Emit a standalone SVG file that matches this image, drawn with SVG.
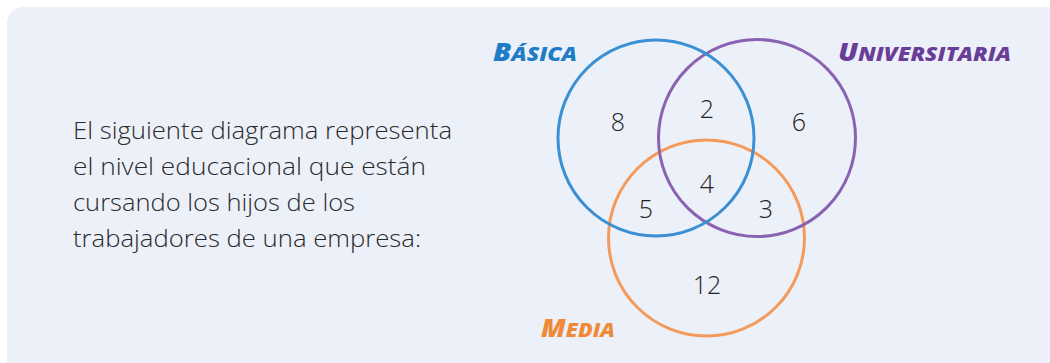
<svg xmlns="http://www.w3.org/2000/svg" width="1050" height="363" viewBox="0 0 1050 363">
<style>
.bg{fill:#ECF0F9}
.c{fill:none;stroke-width:3}
.num{font-family:"Open Sans","Noto Sans",sans-serif;font-size:25px;font-weight:300;fill:#222;text-anchor:middle}
.body{font-family:"Open Sans","Noto Sans",sans-serif;font-size:24.5px;font-weight:300;fill:#2a2a2a}
.lab{font-family:"Open Sans","Noto Sans",sans-serif;font-weight:800;font-style:italic;font-size:19px}
.big{font-size:24px}
</style>
<rect class="bg" x="7" y="7" width="1080" height="400" rx="16"/>
<g id="text">
<text class="body" x="73" y="139" textLength="379" lengthAdjust="spacingAndGlyphs">El siguiente diagrama representa</text>
<text class="body" x="73" y="175" textLength="353" lengthAdjust="spacingAndGlyphs">el nivel educacional que están</text>
<text class="body" x="73" y="211" textLength="282" lengthAdjust="spacingAndGlyphs">cursando los hijos de los</text>
<text class="body" x="73" y="247" textLength="348" lengthAdjust="spacingAndGlyphs">trabajadores de una empresa:</text>
</g>
<g id="connectors"></g>
<g id="media"><circle class="c" cx="706.5" cy="238" r="98" stroke="#F49A5A"/></g>
<g id="universitaria"><circle class="c" cx="757" cy="138" r="98.5" stroke="#8A62B2"/></g>
<g id="basica"><circle class="c" cx="656" cy="138" r="98" stroke="#3B8FD3"/></g>
<g id="labels">
<text class="lab" x="493" y="61" fill="#1F7CC6" textLength="84" lengthAdjust="spacingAndGlyphs"><tspan class="big">B</tspan>ÁSICA</text>
<text class="lab" x="838" y="61" fill="#6A3E98" textLength="173" lengthAdjust="spacingAndGlyphs"><tspan class="big">U</tspan>NIVERSITARIA</text>
<text class="lab" x="541" y="337" fill="#F08A3A" textLength="74" lengthAdjust="spacingAndGlyphs"><tspan class="big">M</tspan>EDIA</text>
</g>
<g id="numbers">
<text class="num" x="618" y="131">8</text>
<text class="num" x="707" y="118">2</text>
<text class="num" x="799" y="131">6</text>
<text class="num" x="707" y="193">4</text>
<text class="num" x="646" y="218">5</text>
<text class="num" x="766" y="218">3</text>
<text class="num" x="707" y="294">12</text>
</g>
</svg>
